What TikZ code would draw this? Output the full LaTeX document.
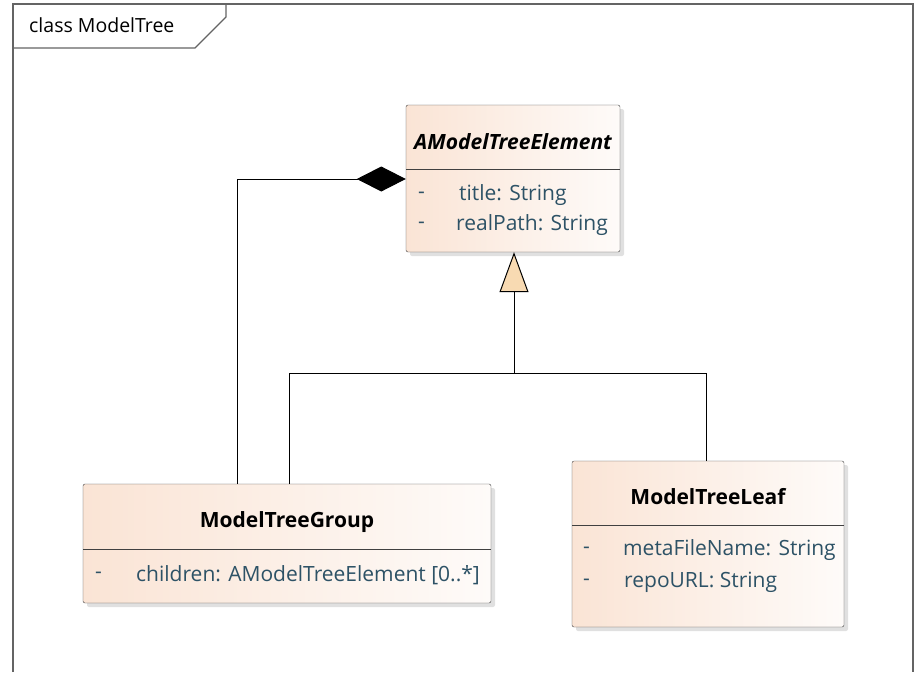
\documentclass[tikz,border=0pt]{standalone}
\usepackage{fontspec}
\setmainfont{Open Sans}
\usepackage{xcolor}
\usetikzlibrary{shapes,arrows,positioning,calc,shadows,arrows.meta}
\definecolor{peach}{RGB}{250,228,213}
\definecolor{peachlight}{RGB}{254,251,249}
\definecolor{attrcol}{RGB}{45,82,102}
\definecolor{framecol}{RGB}{100,100,100}
\definecolor{tipfill}{RGB}{248,218,178}
\tikzset{
    classbox/.style={draw=black!75, rectangle, rounded corners=2pt, left color=peach, right color=peachlight,
        drop shadow={shadow xshift=4pt, shadow yshift=-4pt, opacity=0.2, fill=black!60}},
    classname/.style={font=\fontsize{21}{24}\selectfont\bfseries},
    attr/.style={font=\fontsize{21}{24}\selectfont, text=attrcol, anchor=west, inner sep=0pt},
    link/.style={draw=black, line width=1pt}
}

\begin{document}
\begin{tikzpicture}[x=1pt, y=-1pt]
    \useasboundingbox (0,0) rectangle (915,672);
    % Frame
    \draw [framecol, line width=1.5pt] (13,672) -- (13,4) -- (913,4) -- (913,672);
    \draw [framecol, line width=1.2pt] (13,48) -- (195,48) -- (226,17) -- (226,4);
    \node [anchor=west, inner sep=0pt, font=\fontsize{19.5}{22}\selectfont] (frametitle) at (29,25) {class ModelTree};

    % AModelTreeElement
    \node [classbox, minimum width=214pt, minimum height=147pt] (elem) at (513,178.5) {};
    \draw [black!75] (406,169) -- (620,169);
    \node [classname] (elemname) at (513,142) {\itshape AModelTreeElement};
    \node [attr] (elemdash1) at (418,195) {-};
    \node [attr] (elemdash2) at (418,225) {-};
    \node [attr] (elemtitle) at (459,195) {title: String};
    \node [attr] (elempath) at (456,225) {realPath: String};

    % ModelTreeGroup
    \node [classbox, minimum width=408pt, minimum height=119pt] (group) at (287,543.5) {};
    \draw [black!75] (83,549) -- (491,549);
    \node [classname] (groupname) at (287,522) {ModelTreeGroup};
    \node [attr] (groupdash) at (95,575) {-};
    \node [attr] (groupkids) at (136,575) {children: AModelTreeElement [0..*]};

    % ModelTreeLeaf
    \node [classbox, minimum width=272pt, minimum height=166pt] (leaf) at (708,544) {};
    \draw [black!75] (572,525) -- (844,525);
    \node [classname] (leafname) at (708,497) {ModelTreeLeaf};
    \node [attr] (leafdash1) at (583,550) {-};
    \node [attr] (leafdash2) at (583,582) {-};
    \node [attr] (leafmeta) at (623,550) {metaFileName: String};
    \node [attr] (leafrepo) at (624,582) {repoURL: String};

    % Connectors
    \coordinate (split) at (514,373);
    \coordinate (compin) at (237,484);
    \coordinate (genin) at (289,484);
    \coordinate (leafin) at (706,461);
    \draw [link, -{Diamond[length=49pt, width=25pt]}] (compin) |- (elem.west |- 0,179);
    \draw [link] (genin) |- (split);
    \draw [link] (leafin) |- (split);
    \draw [link, -{Triangle[length=40pt, width=29pt, fill=tipfill]}] (split) -- (elem.south -| split);
\end{tikzpicture}
\end{document}
